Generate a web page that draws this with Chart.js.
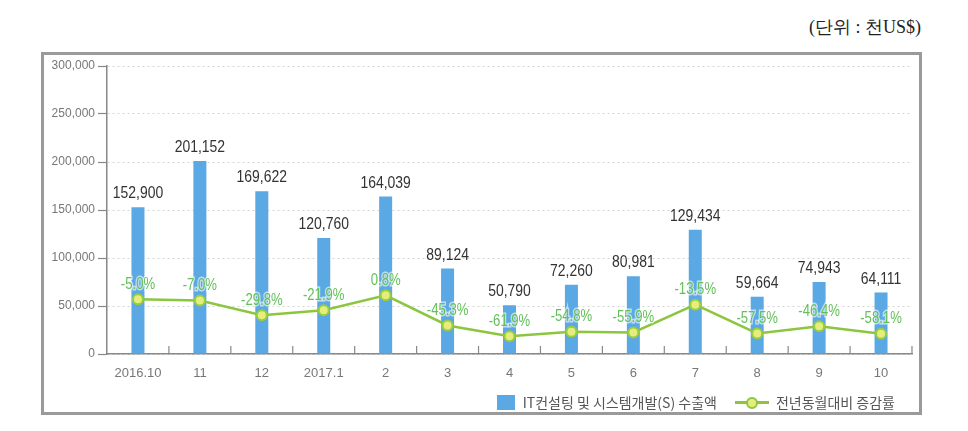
<!DOCTYPE html>
<html>
<head>
<meta charset="utf-8">
<script src="https://cdn.jsdelivr.net/npm/chart.js@4.4.0/dist/chart.umd.min.js"></script>
<style>
  body { margin: 0; background: #fff; width: 968px; height: 431px; position: relative; overflow: hidden; }
  #unit { position: absolute; right: 47px; top: 15px; font: 18px "Liberation Serif", "DejaVu Serif", serif; color: #222; }
  #box { position: absolute; left: 41px; top: 52px; width: 881px; height: 363px; border: 3px solid #9a9a9a; box-sizing: border-box; }
  #wrap { position: absolute; left: 0; top: 0; width: 875px; height: 357px; }
  #legend { position: absolute; right: 24px; bottom: 0px; font: 14px "Noto Sans CJK KR", sans-serif; color: #555; display: flex; align-items: center; }
  .sw { display: inline-block; width: 18px; height: 15px; background: #5aa9e4; margin-right: 8px; }
  .ln { display: inline-block; position: relative; width: 34px; height: 14px; margin: 0 7px 0 18px; }
  .ln:before { content: ""; position: absolute; left: 0; right: 0; top: 6px; height: 3px; background: #8cc63f; }
  .ln:after { content: ""; position: absolute; left: 11px; top: 2px; width: 8px; height: 8px; border-radius: 50%; background: #e3ee7c; border: 2px solid #8cc63f; }
</style>
</head>
<body>
<div id="unit">(단위 : 천US$)</div>
<div id="box">
  <div id="wrap"><canvas id="exportChart"></canvas></div>
  <div id="legend"><span class="sw"></span>IT컨설팅 및 시스템개발(S) 수출액<span class="ln"></span>전년동월대비 증감률</div>
</div>
<script>
const months = ["2016.10", "11", "12", "2017.1", "2", "3", "4", "5", "6", "7", "8", "9", "10"];
const exportValues = [152900, 201152, 169622, 120760, 164039, 89124, 50790, 72260, 80981, 129434, 59664, 74943, 64111];
const growthRates = [-5.0, -7.0, -29.8, -21.9, 0.8, -45.3, -61.9, -54.8, -55.9, -13.5, -57.5, -46.4, -58.1];
const yTicks = [0, 50000, 100000, 150000, 200000, 250000, 300000];

function fmt(n) {
    return n.toLocaleString("en-US");
}

// narrow text, the source uses a condensed face
function drawNarrow(ctx, text, x, y, size, color, halo) {
    ctx.save();
    ctx.translate(x, y);
    ctx.scale(0.82, 1);
    ctx.font = size + "px 'Liberation Sans', Arial, sans-serif";
    ctx.fillStyle = color;
    ctx.textAlign = "center";
    ctx.textBaseline = "bottom";
    if (halo) {
        ctx.lineWidth = 3;
        ctx.strokeStyle = "rgba(255,255,255,0.6)";
        ctx.strokeText(text, 0, 0);
    }
    ctx.fillText(text, 0, 0);
    ctx.restore();
}

const valueLabels = {
    id: "valueLabels",
    afterDatasetsDraw(chart) {
        const ctx = chart.ctx;
        chart.getDatasetMeta(0).data.forEach((bar, i) => {
            drawNarrow(ctx, fmt(exportValues[i]), bar.x, bar.y - 5, 17, "#333");
        });
        chart.getDatasetMeta(1).data.forEach((pt, i) => {
            drawNarrow(ctx, growthRates[i].toFixed(1) + "%", pt.x, pt.y - 7, 16, "#63c05a", true);
        });
    }
};

const xTickMarks = {
    id: "xTickMarks",
    afterDraw(chart) {
        const x = chart.scales.x;
        const ctx = chart.ctx;
        const bottom = chart.chartArea.bottom;
        ctx.save();
        ctx.strokeStyle = "#888";
        ctx.lineWidth = 1.2;
        for (let i = 0; i < months.length; i++) {
            const px = i < months.length - 1
                ? (x.getPixelForValue(i) + x.getPixelForValue(i + 1)) / 2
                : chart.chartArea.right;
            ctx.beginPath();
            ctx.moveTo(px, bottom);
            ctx.lineTo(px, bottom - 8);
            ctx.stroke();
        }
        ctx.restore();
    }
};

const exportCanvas = document.getElementById("exportChart");

new Chart(exportCanvas, {
    data: {
        labels: months,
        datasets: [{
            type: "bar",
            label: "IT컨설팅 및 시스템개발(S) 수출액",
            data: exportValues,
            backgroundColor: "#5aa9e4",
            barPercentage: 0.21,
            categoryPercentage: 1,
            order: 1,
            yAxisID: "y"
        }, {
            type: "line",
            label: "전년동월대비 증감률",
            data: growthRates,
            borderColor: "#8cc63f",
            borderWidth: 2.5,
            pointRadius: 5,
            pointBorderWidth: 2,
            pointBackgroundColor: "#e3ee7c",
            pointBorderColor: "#9ccc3c",
            tension: 0,
            order: 0,
            yAxisID: "y1"
        }]
    },
    options: {
        responsive: true,
        maintainAspectRatio: false,
        animation: false,
        layout: {
            padding: { top: 11, right: 6, left: 0, bottom: 28 }
        },
        plugins: {
            legend: { display: false },
            tooltip: { enabled: false }
        },
        scales: {
            x: {
                afterFit(scale) { scale.height = 30; },
                grid: { display: false, drawTicks: false },
                border: { color: "#888", width: 1.5 },
                ticks: {
                    padding: 12,
                    color: "#777",
                    font: { family: "'Liberation Sans', Arial, sans-serif", size: 13 }
                }
            },
            y: {
                min: 0,
                max: 300000,
                afterFit(scale) { scale.width = 63; },
                afterBuildTicks(scale) { scale.ticks = yTicks.map(v => ({ value: v })); },
                grid: {
                    color: "#d4d4d4",
                    lineWidth: 1,
                    tickColor: "#888",
                    tickLength: 9,
                    tickWidth: 1.2
                },
                border: { color: "#888", width: 1.5, dash: [2, 3] },
                ticks: {
                    padding: 3,
                    color: "#777",
                    font: { family: "'Liberation Sans', Arial, sans-serif", size: 12 },
                    callback: v => fmt(v)
                }
            },
            y1: {
                display: false,
                min: -89,
                max: 352
            }
        }
    },
    plugins: [valueLabels, xTickMarks]
});
</script>
</body>
</html>
